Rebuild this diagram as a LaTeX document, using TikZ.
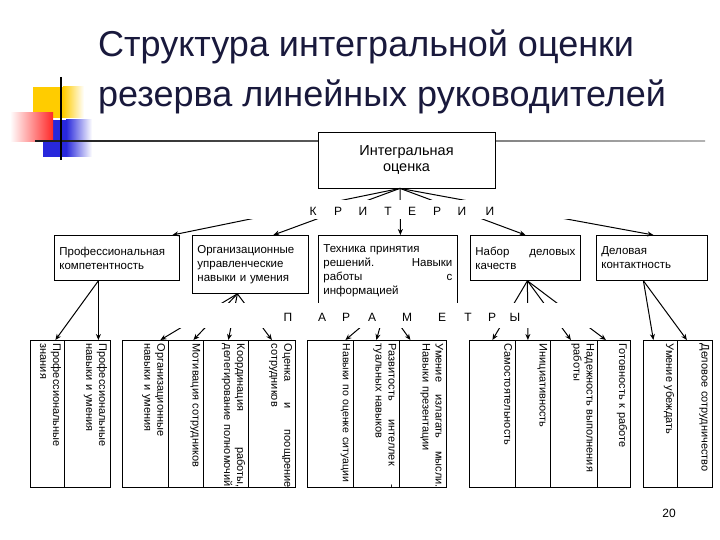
\documentclass[tikz,border=0pt]{standalone}
\usepackage{fontspec}
\setmainfont{Liberation Sans}
\usetikzlibrary{arrows.meta}
\definecolor{titleblue}{RGB}{25,25,60}
\definecolor{decoyellow}{RGB}{255,204,0}
\definecolor{decored}{RGB}{255,40,40}
\definecolor{decoblue}{RGB}{40,40,220}
\begin{document}
\begin{tikzpicture}[x=1pt, y=-1pt,
        box/.style = {draw, fill=white, line width=0.8pt, anchor=north west, inner sep=5pt,
                      align=left, font=\fontsize{11.5}{14}\selectfont},
        colbox/.style = {draw, line width=0.8pt, anchor=north west, minimum height=147pt, inner sep=0pt},
        coltext/.style = {rotate=-90, anchor=north west, inner sep=1.5pt, text width=144pt,
                          align=left, font=\fontsize{11}{13}\selectfont},
        strip/.style = {fill=white, inner sep=0pt},
        letter/.style = {anchor=base, inner sep=0pt, font=\fontsize{12}{14}\selectfont},
        arr/.style = {-{Stealth[length=6pt,width=5pt]}, line width=1pt}
    ]
    \useasboundingbox (0,0) rectangle (720,540);
    % corner decoration
    \fill[decoyellow] (33,87) rectangle (63,118);
    \shade[left color=decoyellow, right color=white] (63,87) rectangle (84,118);
    \fill[decoblue] (43,120) rectangle (66,157);
    \shade[left color=decoblue, right color=white] (66,120) rectangle (92,157);
    \shade[left color=white, right color=decored] (10,113) rectangle (53,142);
    \shade[left color=black!90, right color=black!30] (35,140.2) rectangle (705,141.8);
    \draw[line width=1.6pt] (61,77) -- (61,160);

    \node[anchor=base west, inner sep=0pt, text=titleblue, font=\fontsize{36}{44}\selectfont]
        (title1) at (98,57) {Структура интегральной оценки};
    \node[anchor=base west, inner sep=0pt, text=titleblue, font=\fontsize{36}{44}\selectfont]
        (title2) at (98,107) {резерва линейных руководителей};

    % upper boxes
    \node[draw, fill=white, line width=0.8pt, minimum width=177pt, minimum height=56pt, align=center,
          font=\fontsize{14.5}{16}\selectfont] (integ) at (406.5,160) {Интегральная\\оценка};
    \node[box, text width=115pt, minimum height=45pt] (prof) at (54,235)
        {Профессиональная\\компетентность};
    \node[box, text width=106pt, minimum height=58pt] (org) at (192,235)
        {Организационные\\управленческие\\навыки и умения};
    \node[box, text width=129pt, minimum height=70pt] (tech) at (318,235)
        {Техника принятия\\решений.\hfill Навыки\\работы\hfill с\\информацией};
    \node[box, text width=100pt, minimum height=45pt] (dq) at (470,235)
        {Набор\hfill деловых\\качеств};
    \node[box, text width=101pt, minimum height=45pt] (cont) at (596,235)
        {Деловая\\контактность};

    % lower columns
    \foreach \n/\xa/\xb/\txt in {
        prof1/30/64/{Профессиональные\\знания},
        prof2/64/110/{Профессиональные\\навыки и умения},
        org1/122/168/{Организационные\\навыки и умения},
        org2/168/203/{Мотивация сотрудников},
        org3/203/248/{Координация\hfill работы,\\делегирование полномочий},
        org4/248/295/{Оценка\hfill и\hfill поощрение\\сотрудников},
        tech1/307/353/{\fontsize{10.5}{13}\selectfont Навыки по оценке ситуации},
        tech2/353/399/{Развитость\hfill интеллек\hfill -\\туальных навыков},
        tech3/399/446/{Умение\hfill излагать\hfill мысли.\\Навыки презентации},
        dq1/469/515/{Самостоятельность},
        dq2/515/550/{Инициативность},
        dq3/550/597/{Надежность выполнения\\работы},
        dq4/597/630/{Готовность к работе},
        cont1/643/677/{Умение убеждать},
        cont2/677/712/{Деловое сотрудничество}} {
        \pgfmathsetmacro\w{\xb-\xa}
        \node[colbox, minimum width=\w pt] (\n) at (\xa,340) {};
        \node[coltext] (\n txt) at ([shift={(-2,2)}]\n.north east) {\txt};
    }

    % arrows
    \foreach \t/\s in {prof/55.5, org/23, tech/12.5, dq/0, cont/1.5}
        \draw[arr] ([xshift=-6.5pt]integ.south) -- ([xshift=\s pt]\t.north);
    \foreach \t/\s in {prof1/8, prof2/11}
        \draw[arr] ([xshift=-18.5pt]prof.south) -- ([xshift=\s pt]\t.north);
    \foreach \t/\s in {org1/15, org2/7.5, org3/2.5, org4/0}
        \draw[arr] ([xshift=-13pt]org.south) -- ([xshift=\s pt]\t.north);
    \foreach \t/\s in {tech1/15, tech2/0, tech3/-12.5}
        \draw[arr] ([xshift=-2pt]tech.south) -- ([xshift=\s pt]\t.north);
    \foreach \t/\s in {dq1/0, dq2/-5, dq3/-3, dq4/-8}
        \draw[arr] ([xshift=2pt]dq.south) -- ([xshift=\s pt]\t.north);
    \foreach \t/\s in {cont1/-7, cont2/-8}
        \draw[arr] ([xshift=-8.5pt]cont.south) -- ([xshift=\s pt]\t.north);

    % criteria and parameters
    \node[strip, minimum width=330pt, minimum height=19pt] (critstrip) at (405,209.5) {};
    \foreach \ch/\x [count=\i] in {К/313, Р/338, И/363, Т/388, Е/412, Р/437, И/462, И/490}
        \node[letter] (crit\i) at (\x,215) {\ch};
    \node[strip, minimum width=430pt, minimum height=25pt] (parstrip) at (385,315.5) {};
    \foreach \ch/\x [count=\i] in {П/288, А/322, Р/346, А/372, М/407, Е/442, Т/468, Р/492, Ы/515}
        \node[letter] (par\i) at (\x,321) {\ch};

    \node[font=\fontsize{12}{14}\selectfont] (pnum) at (669,513) {20};
\end{tikzpicture}
\end{document}
